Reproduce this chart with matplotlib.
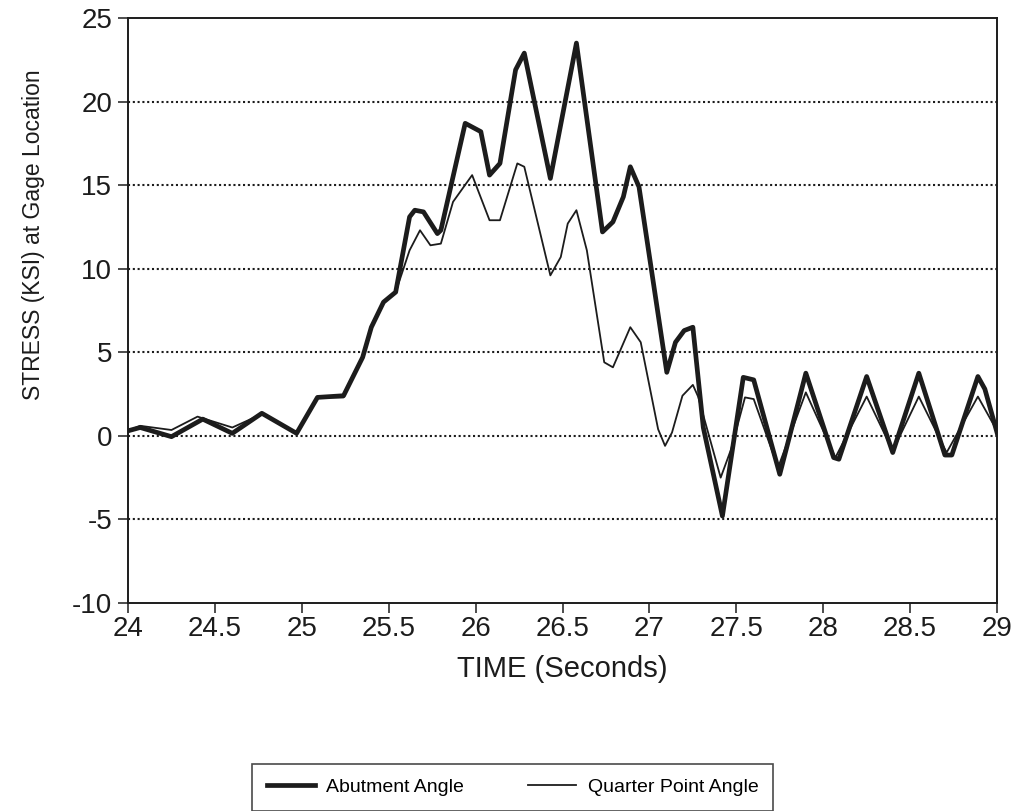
import matplotlib.pyplot as plt

plt.rcParams['font.family'] = ['Liberation Sans', 'DejaVu Sans']

# Abutment angle gage (heavy line): time (s), stress (ksi)
abut_t = [24.0, 24.07, 24.25, 24.43, 24.6, 24.77, 24.97, 25.09, 25.24, 25.35,
          25.4, 25.47, 25.54, 25.62, 25.65, 25.70, 25.78, 25.80, 25.94, 26.03,
          26.08, 26.14, 26.23, 26.28, 26.43, 26.58, 26.73, 26.79, 26.85, 26.89,
          26.94, 27.10, 27.15, 27.20, 27.25, 27.31, 27.42, 27.54, 27.60, 27.75,
          27.90, 28.06, 28.09, 28.25, 28.40, 28.55, 28.70, 28.74, 28.89, 28.93,
          29.0]
abut_v = [0.3, 0.5, -0.05, 1.0, 0.15, 1.35, 0.15, 2.3, 2.4, 4.7,
          6.5, 8.0, 8.6, 13.1, 13.5, 13.4, 12.1, 12.3, 18.7, 18.2,
          15.6, 16.3, 21.9, 22.9, 15.4, 23.5, 12.2, 12.8, 14.3, 16.1,
          14.9, 3.8, 5.6, 6.3, 6.5, 0.5, -4.8, 3.5, 3.35, -2.3,
          3.75, -1.3, -1.4, 3.55, -1.0, 3.75, -1.15, -1.15, 3.55, 2.8,
          0.2]

# Quarter point angle gage (light line)
quart_t = [24.0, 24.07, 24.25, 24.4, 24.6, 24.77, 24.97, 25.09, 25.24, 25.35,
           25.4, 25.47, 25.54, 25.62, 25.68, 25.74, 25.80, 25.87, 25.98, 26.08,
           26.14, 26.24, 26.28, 26.43, 26.49, 26.53, 26.58, 26.64, 26.74, 26.79,
           26.89, 26.95, 27.05, 27.09, 27.13, 27.19, 27.25, 27.28, 27.41, 27.47,
           27.55, 27.60, 27.74, 27.90, 28.07, 28.25, 28.40, 28.55, 28.71, 28.89,
           29.0]
quart_v = [0.3, 0.6, 0.35, 1.15, 0.5, 1.3, 0.2, 2.3, 2.3, 4.7,
           6.5, 8.0, 8.6, 11.1, 12.3, 11.4, 11.5, 14.0, 15.6, 12.9,
           12.9, 16.3, 16.1, 9.6, 10.7, 12.7, 13.5, 11.1, 4.4, 4.1,
           6.5, 5.6, 0.4, -0.6, 0.2, 2.4, 3.05, 2.35, -2.5, -0.8,
           2.3, 2.2, -1.9, 2.6, -1.3, 2.35, -0.9, 2.35, -1.0, 2.35,
           0.3]

x_ticks = [24, 24.5, 25, 25.5, 26, 26.5, 27, 27.5, 28, 28.5, 29]
x_labels = ['24', '24.5', '25', '25.5', '26', '26.5', '27', '27.5', '28', '28.5', '29']
y_ticks = [25, 20, 15, 10, 5, 0, -5, -10]
y_labels = ['25', '20', '15', '10', '5', '0', '-5', '-10']

ink = '#1c1c1c'

fig = plt.figure(figsize=(10.25, 8.11), dpi=100)
ax = fig.add_axes([0.1249, 0.2565, 0.8478, 0.7213])

# dotted reference lines at the interior ticks
for yv in [20, 15, 10, 5, 0, -5]:
    ax.axhline(yv, color=ink, lw=1.5, ls=(0, (1.0, 1.3)), zorder=1)

ax.plot(abut_t, abut_v, color=ink, lw=3.4, solid_joinstyle='round',
        label='Abutment Angle', zorder=3)
ax.plot(quart_t, quart_v, color=ink, lw=1.3, solid_joinstyle='round',
        label='Quarter Point Angle', zorder=4)

ax.set_xlim(24, 29)
ax.set_ylim(-10, 25)
ax.set_xticks(x_ticks)
ax.set_xticklabels(x_labels)
ax.set_yticks(y_ticks)
ax.set_yticklabels(y_labels)
ax.tick_params(axis='both', direction='out', length=7.5, width=1.1,
               color=ink, labelcolor=ink, labelsize=20)
ax.tick_params(axis='x', pad=2)
ax.tick_params(axis='y', pad=4)
for sp in ax.spines.values():
    sp.set_linewidth(1.4)
    sp.set_color(ink)

ax.set_xlabel('TIME (Seconds)', fontsize=21, color=ink, labelpad=9)
ax.set_ylabel('STRESS (KSI) at Gage Location', fontsize=16.5, color=ink)
ax.yaxis.set_label_coords(-0.096, 0.629)

# legend box sits at the bottom edge, running off the page
leg = fig.legend(loc='upper left', bbox_to_anchor=(0.2459, 0.058), ncol=2,
                 fontsize=14, handlelength=2.47, handletextpad=0.6,
                 columnspacing=3.3, borderpad=0.75, borderaxespad=0,
                 frameon=True, fancybox=False)
leg.get_frame().set_edgecolor(ink)
leg.get_frame().set_linewidth(1.2)

fig.savefig('out.png', dpi=100)
